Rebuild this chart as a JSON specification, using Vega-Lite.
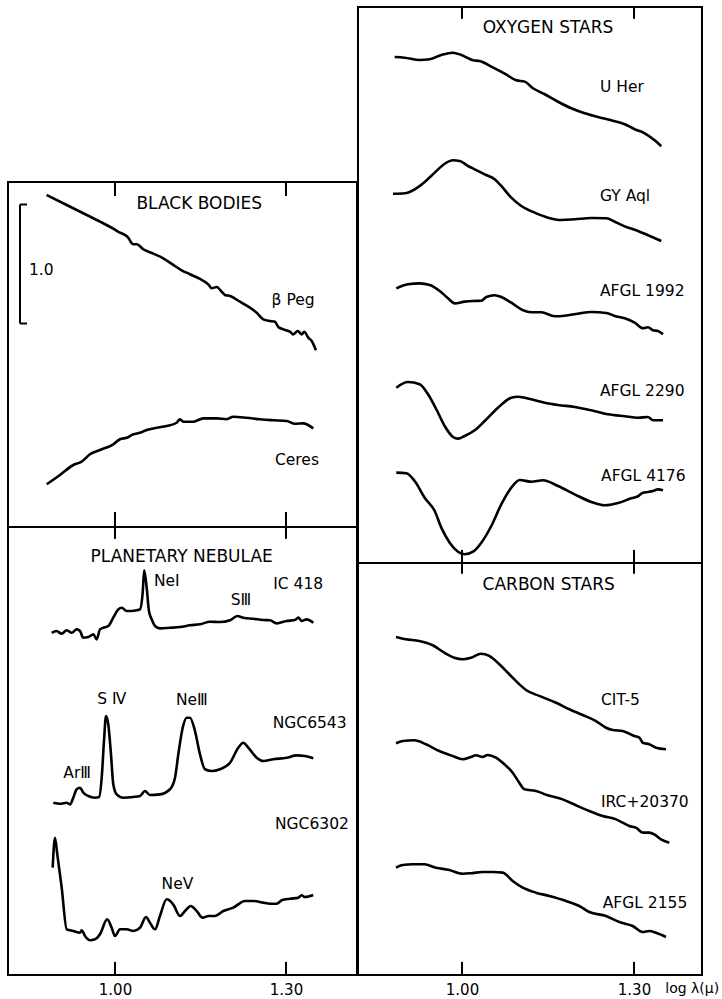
{
"$schema": "https://vega.github.io/schema/vega-lite/v6.json",
"padding": {"left": 7, "top": 5, "right": 0, "bottom": 2},
"background": "white",
"config": {"view": {"stroke": "black", "strokeWidth": 2}, "text": {"font": "DejaVu Sans", "color": "black"}},
"datasets": {
"ticks": [{"t": 1.0}, {"t": 1.3}],
"bb": [
{"s":"bPeg","x":0.880,"y":2.790},{"s":"bPeg","x":0.9153,"y":2.706},{"s":"bPeg","x":0.9504,"y":2.622},{"s":"bPeg","x":0.9737,"y":2.566},{"s":"bPeg","x":0.9970,"y":2.507},{"s":"bPeg","x":1.0088,"y":2.473},{"s":"bPeg","x":1.0175,"y":2.454},{"s":"bPeg","x":1.0233,"y":2.431},{"s":"bPeg","x":1.0275,"y":2.397},{"s":"bPeg","x":1.0321,"y":2.376},{"s":"bPeg","x":1.0381,"y":2.376},{"s":"bPeg","x":1.0496,"y":2.334},{"s":"bPeg","x":1.0672,"y":2.297},{"s":"bPeg","x":1.0847,"y":2.258},{"s":"bPeg","x":1.1023,"y":2.202},{"s":"bPeg","x":1.1170,"y":2.157},{"s":"bPeg","x":1.1316,"y":2.124},{"s":"bPeg","x":1.1491,"y":2.084},{"s":"bPeg","x":1.1637,"y":2.039},{"s":"bPeg","x":1.1696,"y":2.006},{"s":"bPeg","x":1.1784,"y":2.017},{"s":"bPeg","x":1.1872,"y":1.977},{"s":"bPeg","x":1.1930,"y":1.950},{"s":"bPeg","x":1.2018,"y":1.941},{"s":"bPeg","x":1.2193,"y":1.893},{"s":"bPeg","x":1.2368,"y":1.843},{"s":"bPeg","x":1.2486,"y":1.801},{"s":"bPeg","x":1.2602,"y":1.745},{"s":"bPeg","x":1.2719,"y":1.731},{"s":"bPeg","x":1.2807,"y":1.725},{"s":"bPeg","x":1.2865,"y":1.681},{"s":"bPeg","x":1.2953,"y":1.661},{"s":"bPeg","x":1.3070,"y":1.641},{"s":"bPeg","x":1.3128,"y":1.619},{"s":"bPeg","x":1.3205,"y":1.647},{"s":"bPeg","x":1.3275,"y":1.619},{"s":"bPeg","x":1.3321,"y":1.641},{"s":"bPeg","x":1.3391,"y":1.591},{"s":"bPeg","x":1.3451,"y":1.563},{"s":"bPeg","x":1.3526,"y":1.485},
{"s":"Ceres","x":0.8802,"y":0.359},{"s":"Ceres","x":0.9035,"y":0.437},{"s":"Ceres","x":0.9268,"y":0.521},{"s":"Ceres","x":0.9416,"y":0.549},{"s":"Ceres","x":0.9561,"y":0.611},{"s":"Ceres","x":0.9737,"y":0.647},{"s":"Ceres","x":0.9970,"y":0.695},{"s":"Ceres","x":1.0088,"y":0.737},{"s":"Ceres","x":1.0205,"y":0.750},{"s":"Ceres","x":1.0321,"y":0.779},{"s":"Ceres","x":1.0439,"y":0.792},{"s":"Ceres","x":1.0556,"y":0.815},{"s":"Ceres","x":1.0732,"y":0.834},{"s":"Ceres","x":1.0907,"y":0.849},{"s":"Ceres","x":1.1082,"y":0.876},{"s":"Ceres","x":1.1140,"y":0.905},{"s":"Ceres","x":1.1198,"y":0.885},{"s":"Ceres","x":1.1374,"y":0.885},{"s":"Ceres","x":1.1549,"y":0.913},{"s":"Ceres","x":1.1784,"y":0.913},{"s":"Ceres","x":1.1960,"y":0.905},{"s":"Ceres","x":1.2075,"y":0.927},{"s":"Ceres","x":1.2311,"y":0.918},{"s":"Ceres","x":1.2544,"y":0.905},{"s":"Ceres","x":1.2777,"y":0.897},{"s":"Ceres","x":1.3011,"y":0.891},{"s":"Ceres","x":1.3158,"y":0.868},{"s":"Ceres","x":1.3303,"y":0.871},{"s":"Ceres","x":1.3479,"y":0.829}
],
"bbl": [
{"label":"β Peg","x":1.2747,"y":1.905},{"label":"Ceres","x":1.2807,"y":0.561},{"label":"1.0","x":0.8491,"y":2.160}
],
"pn": [
{"s":"IC418","x":0.8889,"y":2.876},{"s":"IC418","x":0.8975,"y":2.891},{"s":"IC418","x":0.9065,"y":2.868},{"s":"IC418","x":0.9153,"y":2.897},{"s":"IC418","x":0.9240,"y":2.876},{"s":"IC418","x":0.9328,"y":2.905},{"s":"IC418","x":0.9386,"y":2.891},{"s":"IC418","x":0.9444,"y":2.834},{"s":"IC418","x":0.9532,"y":2.840},{"s":"IC418","x":0.9619,"y":2.863},{"s":"IC418","x":0.9679,"y":2.821},{"s":"IC418","x":0.9737,"y":2.905},{"s":"IC418","x":0.9795,"y":2.918},{"s":"IC418","x":0.9882,"y":2.933},{"s":"IC418","x":0.9970,"y":3.003},{"s":"IC418","x":1.0058,"y":3.073},{"s":"IC418","x":1.0118,"y":3.087},{"s":"IC418","x":1.0205,"y":3.059},{"s":"IC418","x":1.0293,"y":3.059},{"s":"IC418","x":1.0381,"y":3.065},{"s":"IC418","x":1.0439,"y":3.073},{"s":"IC418","x":1.0486,"y":3.213},{"s":"IC418","x":1.0512,"y":3.401},{"s":"IC418","x":1.0556,"y":3.255},{"s":"IC418","x":1.0596,"y":3.059},{"s":"IC418","x":1.0644,"y":2.989},{"s":"IC418","x":1.0702,"y":2.933},{"s":"IC418","x":1.0789,"y":2.913},{"s":"IC418","x":1.0965,"y":2.918},{"s":"IC418","x":1.1140,"y":2.924},{"s":"IC418","x":1.1316,"y":2.939},{"s":"IC418","x":1.1491,"y":2.947},{"s":"IC418","x":1.1667,"y":2.969},{"s":"IC418","x":1.1842,"y":2.966},{"s":"IC418","x":1.2018,"y":2.981},{"s":"IC418","x":1.2146,"y":3.017},{"s":"IC418","x":1.2251,"y":3.003},{"s":"IC418","x":1.2425,"y":2.994},{"s":"IC418","x":1.2602,"y":2.983},{"s":"IC418","x":1.2719,"y":2.981},{"s":"IC418","x":1.2837,"y":2.955},{"s":"IC418","x":1.3011,"y":2.975},{"s":"IC418","x":1.3158,"y":2.983},{"s":"IC418","x":1.3216,"y":3.003},{"s":"IC418","x":1.3275,"y":2.975},{"s":"IC418","x":1.3363,"y":2.989},{"s":"IC418","x":1.3479,"y":2.961},
{"s":"N6543","x":0.8918,"y":1.448},{"s":"N6543","x":0.9035,"y":1.439},{"s":"N6543","x":0.9153,"y":1.448},{"s":"N6543","x":0.9211,"y":1.434},{"s":"N6543","x":0.9268,"y":1.490},{"s":"N6543","x":0.9328,"y":1.561},{"s":"N6543","x":0.9386,"y":1.574},{"s":"N6543","x":0.9444,"y":1.532},{"s":"N6543","x":0.9532,"y":1.504},{"s":"N6543","x":0.9649,"y":1.490},{"s":"N6543","x":0.9723,"y":1.496},{"s":"N6543","x":0.9767,"y":1.658},{"s":"N6543","x":0.9807,"y":1.966},{"s":"N6543","x":0.9842,"y":2.176},{"s":"N6543","x":0.9882,"y":2.107},{"s":"N6543","x":0.9930,"y":1.855},{"s":"N6543","x":0.9970,"y":1.603},{"s":"N6543","x":1.0030,"y":1.518},{"s":"N6543","x":1.0146,"y":1.490},{"s":"N6543","x":1.0321,"y":1.496},{"s":"N6543","x":1.0439,"y":1.504},{"s":"N6543","x":1.0526,"y":1.546},{"s":"N6543","x":1.0614,"y":1.513},{"s":"N6543","x":1.0789,"y":1.518},{"s":"N6543","x":1.0965,"y":1.561},{"s":"N6543","x":1.1053,"y":1.658},{"s":"N6543","x":1.1111,"y":1.855},{"s":"N6543","x":1.1188,"y":2.078},{"s":"N6543","x":1.1258,"y":2.162},{"s":"N6543","x":1.1316,"y":2.162},{"s":"N6543","x":1.1404,"y":2.050},{"s":"N6543","x":1.1491,"y":1.855},{"s":"N6543","x":1.1579,"y":1.729},{"s":"N6543","x":1.1696,"y":1.714},{"s":"N6543","x":1.1842,"y":1.729},{"s":"N6543","x":1.2018,"y":1.784},{"s":"N6543","x":1.2163,"y":1.910},{"s":"N6543","x":1.2251,"y":1.952},{"s":"N6543","x":1.2339,"y":1.910},{"s":"N6543","x":1.2486,"y":1.826},{"s":"N6543","x":1.2602,"y":1.798},{"s":"N6543","x":1.2777,"y":1.813},{"s":"N6543","x":1.3011,"y":1.826},{"s":"N6543","x":1.3186,"y":1.846},{"s":"N6543","x":1.3333,"y":1.840},{"s":"N6543","x":1.3479,"y":1.821},
{"s":"N6302","x":0.8907,"y":0.902},{"s":"N6302","x":0.8947,"y":1.154},{"s":"N6302","x":0.8988,"y":1.014},{"s":"N6302","x":0.9065,"y":0.734},{"s":"N6302","x":0.9153,"y":0.384},{"s":"N6302","x":0.9268,"y":0.370},{"s":"N6302","x":0.9386,"y":0.355},{"s":"N6302","x":0.9416,"y":0.376},{"s":"N6302","x":0.9474,"y":0.328},{"s":"N6302","x":0.9561,"y":0.292},{"s":"N6302","x":0.9649,"y":0.300},{"s":"N6302","x":0.9737,"y":0.342},{"s":"N6302","x":0.9863,"y":0.468},{"s":"N6302","x":0.9942,"y":0.397},{"s":"N6302","x":1.0000,"y":0.328},{"s":"N6302","x":1.0088,"y":0.384},{"s":"N6302","x":1.0205,"y":0.384},{"s":"N6302","x":1.0321,"y":0.370},{"s":"N6302","x":1.0439,"y":0.397},{"s":"N6302","x":1.0544,"y":0.487},{"s":"N6302","x":1.0614,"y":0.439},{"s":"N6302","x":1.0702,"y":0.384},{"s":"N6302","x":1.0789,"y":0.496},{"s":"N6302","x":1.0907,"y":0.636},{"s":"N6302","x":1.1021,"y":0.594},{"s":"N6302","x":1.1140,"y":0.496},{"s":"N6302","x":1.1228,"y":0.538},{"s":"N6302","x":1.1328,"y":0.580},{"s":"N6302","x":1.1433,"y":0.538},{"s":"N6302","x":1.1539,"y":0.482},{"s":"N6302","x":1.1637,"y":0.496},{"s":"N6302","x":1.1754,"y":0.496},{"s":"N6302","x":1.1900,"y":0.538},{"s":"N6302","x":1.2075,"y":0.566},{"s":"N6302","x":1.2281,"y":0.622},{"s":"N6302","x":1.2426,"y":0.622},{"s":"N6302","x":1.2602,"y":0.608},{"s":"N6302","x":1.2719,"y":0.599},{"s":"N6302","x":1.2837,"y":0.599},{"s":"N6302","x":1.2925,"y":0.628},{"s":"N6302","x":1.3070,"y":0.641},{"s":"N6302","x":1.3216,"y":0.650},{"s":"N6302","x":1.3275,"y":0.670},{"s":"N6302","x":1.3333,"y":0.655},{"s":"N6302","x":1.3479,"y":0.672}
],
"pnl": [
{"label":"NeⅠ","x":1.0684,"y":3.311},{"label":"IC 418","x":1.2777,"y":3.283},{"label":"SⅢ","x":1.2030,"y":3.149},{"label":"ArⅢ","x":0.9093,"y":1.700},{"label":"S Ⅳ","x":0.9689,"y":2.317},{"label":"NeⅢ","x":1.1070,"y":2.308},{"label":"NGC6543","x":1.2767,"y":2.120},{"label":"NGC6302","x":1.2807,"y":1.266},{"label":"NeⅤ","x":1.0818,"y":0.767}
],
"ox": [
{"s":"UHer","x":0.8826,"y":4.252},{"s":"UHer","x":0.9001,"y":4.246},{"s":"UHer","x":0.9262,"y":4.227},{"s":"UHer","x":0.9437,"y":4.233},{"s":"UHer","x":0.9639,"y":4.269},{"s":"UHer","x":0.9843,"y":4.288},{"s":"UHer","x":0.9988,"y":4.269},{"s":"UHer","x":1.0192,"y":4.224},{"s":"UHer","x":1.0309,"y":4.218},{"s":"UHer","x":1.0511,"y":4.171},{"s":"UHer","x":1.0745,"y":4.112},{"s":"UHer","x":1.0947,"y":4.056},{"s":"UHer","x":1.1094,"y":4.045},{"s":"UHer","x":1.1238,"y":3.989},{"s":"UHer","x":1.1443,"y":3.939},{"s":"UHer","x":1.1675,"y":3.876},{"s":"UHer","x":1.1906,"y":3.821},{"s":"UHer","x":1.2140,"y":3.779},{"s":"UHer","x":1.2372,"y":3.748},{"s":"UHer","x":1.2604,"y":3.720},{"s":"UHer","x":1.2838,"y":3.687},{"s":"UHer","x":1.3012,"y":3.645},{"s":"UHer","x":1.3187,"y":3.611},{"s":"UHer","x":1.3361,"y":3.552},{"s":"UHer","x":1.3476,"y":3.502},
{"s":"GYAql","x":0.8796,"y":3.103},{"s":"GYAql","x":0.9001,"y":3.107},{"s":"GYAql","x":0.9175,"y":3.140},{"s":"GYAql","x":0.9349,"y":3.202},{"s":"GYAql","x":0.9524,"y":3.280},{"s":"GYAql","x":0.9698,"y":3.355},{"s":"GYAql","x":0.9843,"y":3.384},{"s":"GYAql","x":0.9960,"y":3.378},{"s":"GYAql","x":1.0105,"y":3.336},{"s":"GYAql","x":1.0222,"y":3.308},{"s":"GYAql","x":1.0396,"y":3.266},{"s":"GYAql","x":1.0570,"y":3.224},{"s":"GYAql","x":1.0685,"y":3.168},{"s":"GYAql","x":1.0860,"y":3.070},{"s":"GYAql","x":1.1034,"y":3.000},{"s":"GYAql","x":1.1268,"y":2.944},{"s":"GYAql","x":1.1500,"y":2.902},{"s":"GYAql","x":1.1732,"y":2.882},{"s":"GYAql","x":1.1966,"y":2.888},{"s":"GYAql","x":1.2255,"y":2.899},{"s":"GYAql","x":1.2517,"y":2.897},{"s":"GYAql","x":1.2664,"y":2.868},{"s":"GYAql","x":1.2838,"y":2.829},{"s":"GYAql","x":1.3070,"y":2.790},{"s":"GYAql","x":1.3244,"y":2.754},{"s":"GYAql","x":1.3476,"y":2.706},
{"s":"A1992","x":0.8854,"y":2.308},{"s":"A1992","x":0.9058,"y":2.342},{"s":"A1992","x":0.9262,"y":2.350},{"s":"A1992","x":0.9437,"y":2.336},{"s":"A1992","x":0.9611,"y":2.286},{"s":"A1992","x":0.9756,"y":2.224},{"s":"A1992","x":0.9873,"y":2.182},{"s":"A1992","x":1.0047,"y":2.196},{"s":"A1992","x":1.0192,"y":2.202},{"s":"A1992","x":1.0337,"y":2.204},{"s":"A1992","x":1.0424,"y":2.235},{"s":"A1992","x":1.0570,"y":2.250},{"s":"A1992","x":1.0685,"y":2.235},{"s":"A1992","x":1.0860,"y":2.187},{"s":"A1992","x":1.1064,"y":2.124},{"s":"A1992","x":1.1209,"y":2.107},{"s":"A1992","x":1.1383,"y":2.107},{"s":"A1992","x":1.1617,"y":2.073},{"s":"A1992","x":1.1791,"y":2.078},{"s":"A1992","x":1.2023,"y":2.095},{"s":"A1992","x":1.2255,"y":2.109},{"s":"A1992","x":1.2517,"y":2.101},{"s":"A1992","x":1.2664,"y":2.076},{"s":"A1992","x":1.2838,"y":2.056},{"s":"A1992","x":1.3012,"y":2.019},{"s":"A1992","x":1.3157,"y":1.972},{"s":"A1992","x":1.3244,"y":1.981},{"s":"A1992","x":1.3332,"y":1.955},{"s":"A1992","x":1.3419,"y":1.950},{"s":"A1992","x":1.3506,"y":1.922},
{"s":"A2290","x":0.8854,"y":1.473},{"s":"A2290","x":0.9058,"y":1.521},{"s":"A2290","x":0.9262,"y":1.502},{"s":"A2290","x":0.9407,"y":1.418},{"s":"A2290","x":0.9552,"y":1.292},{"s":"A2290","x":0.9698,"y":1.151},{"s":"A2290","x":0.9843,"y":1.059},{"s":"A2290","x":0.9930,"y":1.045},{"s":"A2290","x":1.0047,"y":1.067},{"s":"A2290","x":1.0222,"y":1.115},{"s":"A2290","x":1.0396,"y":1.193},{"s":"A2290","x":1.0628,"y":1.305},{"s":"A2290","x":1.0860,"y":1.389},{"s":"A2290","x":1.0977,"y":1.397},{"s":"A2290","x":1.1209,"y":1.376},{"s":"A2290","x":1.1443,"y":1.347},{"s":"A2290","x":1.1675,"y":1.328},{"s":"A2290","x":1.1966,"y":1.311},{"s":"A2290","x":1.2255,"y":1.283},{"s":"A2290","x":1.2547,"y":1.250},{"s":"A2290","x":1.2838,"y":1.233},{"s":"A2290","x":1.3070,"y":1.221},{"s":"A2290","x":1.3244,"y":1.227},{"s":"A2290","x":1.3332,"y":1.199},{"s":"A2290","x":1.3506,"y":1.199},
{"s":"A4176","x":0.8854,"y":0.759},{"s":"A4176","x":0.9028,"y":0.754},{"s":"A4176","x":0.9175,"y":0.689},{"s":"A4176","x":0.9349,"y":0.549},{"s":"A4176","x":0.9524,"y":0.437},{"s":"A4176","x":0.9639,"y":0.297},{"s":"A4176","x":0.9785,"y":0.171},{"s":"A4176","x":0.9930,"y":0.095},{"s":"A4176","x":1.0047,"y":0.073},{"s":"A4176","x":1.0192,"y":0.095},{"s":"A4176","x":1.0337,"y":0.171},{"s":"A4176","x":1.0511,"y":0.311},{"s":"A4176","x":1.0685,"y":0.493},{"s":"A4176","x":1.0860,"y":0.633},{"s":"A4176","x":1.1006,"y":0.697},{"s":"A4176","x":1.1209,"y":0.683},{"s":"A4176","x":1.1413,"y":0.695},{"s":"A4176","x":1.1675,"y":0.647},{"s":"A4176","x":1.1966,"y":0.577},{"s":"A4176","x":1.2255,"y":0.513},{"s":"A4176","x":1.2489,"y":0.485},{"s":"A4176","x":1.2721,"y":0.504},{"s":"A4176","x":1.2953,"y":0.544},{"s":"A4176","x":1.3070,"y":0.561},{"s":"A4176","x":1.3157,"y":0.591},{"s":"A4176","x":1.3244,"y":0.597},{"s":"A4176","x":1.3332,"y":0.605},{"s":"A4176","x":1.3419,"y":0.619},{"s":"A4176","x":1.3506,"y":0.611}
],
"oxl": [
{"label":"U Her","x":1.2407,"y":4.000},{"label":"GY Aql","x":1.2407,"y":3.084},{"label":"AFGL 1992","x":1.2407,"y":2.286},{"label":"AFGL 2290","x":1.2407,"y":1.445},{"label":"AFGL 4176","x":1.2425,"y":0.731}
],
"cs": [
{"s":"CIT5","x":0.8849,"y":2.840},{"s":"CIT5","x":0.9023,"y":2.821},{"s":"CIT5","x":0.9255,"y":2.807},{"s":"CIT5","x":0.9489,"y":2.771},{"s":"CIT5","x":0.9691,"y":2.708},{"s":"CIT5","x":0.9866,"y":2.666},{"s":"CIT5","x":1.0012,"y":2.653},{"s":"CIT5","x":1.0157,"y":2.666},{"s":"CIT5","x":1.0331,"y":2.700},{"s":"CIT5","x":1.0476,"y":2.681},{"s":"CIT5","x":1.0651,"y":2.611},{"s":"CIT5","x":1.0825,"y":2.527},{"s":"CIT5","x":1.0999,"y":2.443},{"s":"CIT5","x":1.1116,"y":2.395},{"s":"CIT5","x":1.1348,"y":2.345},{"s":"CIT5","x":1.1640,"y":2.288},{"s":"CIT5","x":1.1872,"y":2.233},{"s":"CIT5","x":1.2105,"y":2.185},{"s":"CIT5","x":1.2337,"y":2.134},{"s":"CIT5","x":1.2512,"y":2.078},{"s":"CIT5","x":1.2629,"y":2.059},{"s":"CIT5","x":1.2803,"y":2.050},{"s":"CIT5","x":1.2918,"y":2.028},{"s":"CIT5","x":1.3005,"y":2.008},{"s":"CIT5","x":1.3093,"y":1.994},{"s":"CIT5","x":1.3152,"y":1.952},{"s":"CIT5","x":1.3267,"y":1.939},{"s":"CIT5","x":1.3384,"y":1.910},{"s":"CIT5","x":1.3558,"y":1.897},
{"s":"IRC","x":0.8849,"y":1.947},{"s":"IRC","x":0.8966,"y":1.966},{"s":"IRC","x":0.9168,"y":1.972},{"s":"IRC","x":0.9372,"y":1.939},{"s":"IRC","x":0.9604,"y":1.882},{"s":"IRC","x":0.9838,"y":1.840},{"s":"IRC","x":1.0012,"y":1.813},{"s":"IRC","x":1.0157,"y":1.832},{"s":"IRC","x":1.0244,"y":1.846},{"s":"IRC","x":1.0361,"y":1.832},{"s":"IRC","x":1.0448,"y":1.849},{"s":"IRC","x":1.0593,"y":1.826},{"s":"IRC","x":1.0738,"y":1.771},{"s":"IRC","x":1.0884,"y":1.700},{"s":"IRC","x":1.0999,"y":1.616},{"s":"IRC","x":1.1087,"y":1.561},{"s":"IRC","x":1.1291,"y":1.546},{"s":"IRC","x":1.1495,"y":1.510},{"s":"IRC","x":1.1756,"y":1.476},{"s":"IRC","x":1.1988,"y":1.426},{"s":"IRC","x":1.2220,"y":1.378},{"s":"IRC","x":1.2454,"y":1.336},{"s":"IRC","x":1.2686,"y":1.308},{"s":"IRC","x":1.2803,"y":1.280},{"s":"IRC","x":1.2918,"y":1.252},{"s":"IRC","x":1.3035,"y":1.238},{"s":"IRC","x":1.3152,"y":1.196},{"s":"IRC","x":1.3267,"y":1.196},{"s":"IRC","x":1.3354,"y":1.182},{"s":"IRC","x":1.3471,"y":1.140},{"s":"IRC","x":1.3616,"y":1.112},
{"s":"A2155","x":0.8849,"y":0.902},{"s":"A2155","x":0.8966,"y":0.924},{"s":"A2155","x":0.9140,"y":0.930},{"s":"A2155","x":0.9342,"y":0.930},{"s":"A2155","x":0.9546,"y":0.902},{"s":"A2155","x":0.9778,"y":0.882},{"s":"A2155","x":1.0012,"y":0.851},{"s":"A2155","x":1.0157,"y":0.855},{"s":"A2155","x":1.0361,"y":0.866},{"s":"A2155","x":1.0535,"y":0.866},{"s":"A2155","x":1.0710,"y":0.860},{"s":"A2155","x":1.0884,"y":0.790},{"s":"A2155","x":1.1059,"y":0.734},{"s":"A2155","x":1.1291,"y":0.692},{"s":"A2155","x":1.1523,"y":0.664},{"s":"A2155","x":1.1814,"y":0.622},{"s":"A2155","x":1.2046,"y":0.580},{"s":"A2155","x":1.2220,"y":0.529},{"s":"A2155","x":1.2512,"y":0.496},{"s":"A2155","x":1.2744,"y":0.445},{"s":"A2155","x":1.2977,"y":0.412},{"s":"A2155","x":1.3152,"y":0.361},{"s":"A2155","x":1.3267,"y":0.370},{"s":"A2155","x":1.3384,"y":0.355},{"s":"A2155","x":1.3558,"y":0.319}
],
"csl": [
{"label":"CIT-5","x":1.2425,"y":2.311},{"label":"IRC+20370","x":1.2425,"y":1.454},{"label":"AFGL 2155","x":1.2454,"y":0.608}
]
},
"hconcat": [
{"vconcat": [
{"width": 349, "height": 175, "view": {"stroke": null}, "data": {"values": [{}]}, "mark": {"type": "text"}, "encoding": {"text": {"value": ""}}},
{"width": 349, "height": 345, "layer": [
{"data": {"name": "bb"}, "mark": {"type": "line", "interpolate": "monotone", "color": "black", "strokeWidth": 2.6},
 "encoding": {"x": {"field": "x", "type": "quantitative", "scale": {"domain": [0.8123, 1.4246], "nice": false, "zero": false}, "axis": null},
  "y": {"field": "y", "type": "quantitative", "scale": {"domain": [0, 2.899], "nice": false, "zero": false}, "axis": null},
  "detail": {"field": "s"}}},
{"data": {"name": "bbl"}, "mark": {"type": "text", "align": "left", "baseline": "middle", "fontSize": 15.5},
 "encoding": {"x": {"field": "x", "type": "quantitative"}, "y": {"field": "y", "type": "quantitative"}, "text": {"field": "label"}}},
{"data": {"values": [{}]}, "mark": {"type": "text", "align": "center", "baseline": "middle", "fontSize": 17},
 "encoding": {"x": {"datum": 1.1479}, "y": {"datum": 2.717}, "text": {"value": "BLACK BODIES"}}},
{"data": {"name": "ticks"}, "mark": {"type": "rule", "color": "black", "strokeWidth": 2},
 "encoding": {"x": {"field": "t", "type": "quantitative"}, "y": {"datum": 0}, "y2": {"datum": 0.126}}},
{"data": {"name": "ticks"}, "mark": {"type": "rule", "color": "black", "strokeWidth": 2},
 "encoding": {"x": {"field": "t", "type": "quantitative"}, "y": {"datum": 2.899}, "y2": {"datum": 2.781}}},
{"data": {"values": [{}]}, "mark": {"type": "rule", "color": "black", "strokeWidth": 2},
 "encoding": {"x": {"datum": 0.8333}, "y": {"datum": 1.71}, "y2": {"datum": 2.71}}},
{"data": {"values": [{}]}, "mark": {"type": "rule", "color": "black", "strokeWidth": 2},
 "encoding": {"x": {"datum": 0.8333}, "x2": {"datum": 0.8456}, "y": {"datum": 1.71}}},
{"data": {"values": [{}]}, "mark": {"type": "rule", "color": "black", "strokeWidth": 2},
 "encoding": {"x": {"datum": 0.8333}, "x2": {"datum": 0.8456}, "y": {"datum": 2.71}}}
]},
{"width": 349, "height": 448, "layer": [
{"data": {"name": "pn"}, "mark": {"type": "line", "interpolate": "monotone", "color": "black", "strokeWidth": 2.6},
 "encoding": {"x": {"field": "x", "type": "quantitative", "scale": {"domain": [0.8123, 1.4246], "nice": false, "zero": false},
   "axis": {"values": [1.0, 1.3], "format": ".2f", "ticks": false, "domain": false, "grid": false, "title": null, "labelFont": "DejaVu Sans", "labelFontSize": 15, "labelPadding": 7, "labelColor": "black"}},
  "y": {"field": "y", "type": "quantitative", "scale": {"domain": [0, 3.765], "nice": false, "zero": false}, "axis": null},
  "detail": {"field": "s"}}},
{"data": {"name": "pnl"}, "mark": {"type": "text", "align": "left", "baseline": "middle", "fontSize": 15.5},
 "encoding": {"x": {"field": "x", "type": "quantitative"}, "y": {"field": "y", "type": "quantitative"}, "text": {"field": "label"}}},
{"data": {"values": [{}]}, "mark": {"type": "text", "align": "center", "baseline": "middle", "fontSize": 17},
 "encoding": {"x": {"datum": 1.117}, "y": {"datum": 3.513}, "text": {"value": "PLANETARY NEBULAE"}}},
{"data": {"name": "ticks"}, "mark": {"type": "rule", "color": "black", "strokeWidth": 2},
 "encoding": {"x": {"field": "t", "type": "quantitative"}, "y": {"datum": 0}, "y2": {"datum": 0.11}}},
{"data": {"name": "ticks"}, "mark": {"type": "rule", "color": "black", "strokeWidth": 2},
 "encoding": {"x": {"field": "t", "type": "quantitative"}, "y": {"datum": 3.765}, "y2": {"datum": 3.665}}}
]}
], "spacing": 0, "bounds": "flush"},
{"vconcat": [
{"width": 344, "height": 556, "layer": [
{"data": {"name": "ox"}, "mark": {"type": "line", "interpolate": "monotone", "color": "black", "strokeWidth": 2.6},
 "encoding": {"x": {"field": "x", "type": "quantitative", "scale": {"domain": [0.8186, 1.4186], "nice": false, "zero": false}, "axis": null},
  "y": {"field": "y", "type": "quantitative", "scale": {"domain": [0, 4.672], "nice": false, "zero": false}, "axis": null},
  "detail": {"field": "s"}}},
{"data": {"name": "oxl"}, "mark": {"type": "text", "align": "left", "baseline": "middle", "fontSize": 15.5},
 "encoding": {"x": {"field": "x", "type": "quantitative"}, "y": {"field": "y", "type": "quantitative"}, "text": {"field": "label"}}},
{"data": {"values": [{}]}, "mark": {"type": "text", "align": "center", "baseline": "middle", "fontSize": 17},
 "encoding": {"x": {"datum": 1.15}, "y": {"datum": 4.496}, "text": {"value": "OXYGEN STARS"}}},
{"data": {"name": "ticks"}, "mark": {"type": "rule", "color": "black", "strokeWidth": 2},
 "encoding": {"x": {"field": "t", "type": "quantitative"}, "y": {"datum": 0}, "y2": {"datum": 0.11}}},
{"data": {"name": "ticks"}, "mark": {"type": "rule", "color": "black", "strokeWidth": 2},
 "encoding": {"x": {"field": "t", "type": "quantitative"}, "y": {"datum": 4.672}, "y2": {"datum": 4.572}}}
]},
{"width": 344, "height": 412, "layer": [
{"data": {"name": "cs"}, "mark": {"type": "line", "interpolate": "monotone", "color": "black", "strokeWidth": 2.6},
 "encoding": {"x": {"field": "x", "type": "quantitative", "scale": {"domain": [0.8186, 1.4186], "nice": false, "zero": false},
   "axis": {"values": [1.0, 1.3], "format": ".2f", "ticks": false, "domain": false, "grid": false, "title": null, "labelFont": "DejaVu Sans", "labelFontSize": 15, "labelPadding": 7, "labelColor": "black"}},
  "y": {"field": "y", "type": "quantitative", "scale": {"domain": [0, 3.462], "nice": false, "zero": false}, "axis": null},
  "detail": {"field": "s"}}},
{"data": {"name": "csl"}, "mark": {"type": "text", "align": "left", "baseline": "middle", "fontSize": 15.5},
 "encoding": {"x": {"field": "x", "type": "quantitative"}, "y": {"field": "y", "type": "quantitative"}, "text": {"field": "label"}}},
{"data": {"values": [{}]}, "mark": {"type": "text", "align": "center", "baseline": "middle", "fontSize": 17},
 "encoding": {"x": {"datum": 1.1512}, "y": {"datum": 3.277}, "text": {"value": "CARBON STARS"}}},
{"data": {"values": [{}]}, "mark": {"type": "text", "align": "left", "baseline": "middle", "fontSize": 14},
 "encoding": {"x": {"datum": 1.3545}, "y": {"datum": -0.118}, "text": {"value": "log λ(μ)"}}},
{"data": {"name": "ticks"}, "mark": {"type": "rule", "color": "black", "strokeWidth": 2},
 "encoding": {"x": {"field": "t", "type": "quantitative"}, "y": {"datum": 0}, "y2": {"datum": 0.11}}},
{"data": {"name": "ticks"}, "mark": {"type": "rule", "color": "black", "strokeWidth": 2},
 "encoding": {"x": {"field": "t", "type": "quantitative"}, "y": {"datum": 3.462}, "y2": {"datum": 3.372}}}
]}
], "spacing": 0, "bounds": "flush"}
],
"spacing": -2
}
